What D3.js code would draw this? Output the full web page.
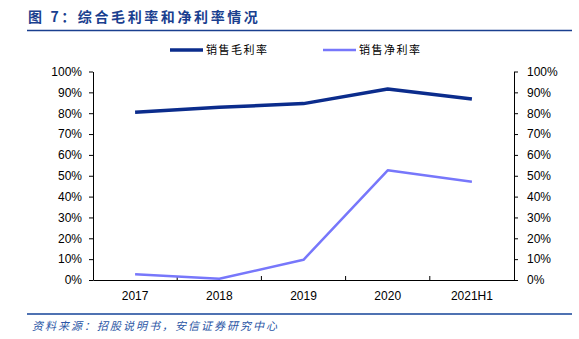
<!DOCTYPE html>
<html>
<head>
<meta charset="utf-8">
<script src="https://cdn.jsdelivr.net/npm/d3@7"></script>
<style>
  html, body { margin: 0; padding: 0; background: #fff; }
  svg { display: block; }
</style>
</head>
<body>
<svg id="chart" width="579" height="339"></svg>
<script>
// Gross and net margin by period
const categories = ["2017", "2018", "2019", "2020", "2021H1"];
const grossMargin = [0.805, 0.828, 0.846, 0.916, 0.868];
const netMargin = [0.027, 0.006, 0.097, 0.526, 0.471];
const yTicks = [0, 0.1, 0.2, 0.3, 0.4, 0.5, 0.6, 0.7, 0.8, 0.9, 1.0];
const seriesNames = ["销售毛利率", "销售净利率"];
const seriesColors = ["#0b2c8c", "#7777fb"];

const svg = d3.select("#chart");
const m = { left: 93, right: 514, top: 71.5, bottom: 280 };

const x = d3.scaleBand().domain(categories).range([m.left, m.right]).padding(0);
const y = d3.scaleLinear().domain([0, 1]).range([m.bottom, m.top]);

// Title and rule
svg.append("text")
  .attr("x", 28).attr("y", 22)
  .attr("font-family", "'Noto Sans CJK SC', sans-serif")
  .attr("font-size", 14).attr("font-weight", "bold")
  .attr("letter-spacing", 2.6)
  .attr("fill", "#1a3f8f")
  .text("图 7：综合毛利率和净利率情况");
svg.append("line")
  .attr("x1", 27).attr("x2", 572).attr("y1", 30.5).attr("y2", 30.5)
  .attr("stroke", "#1a3f8f").attr("stroke-width", 1.5);

// Source footer and rule
svg.append("line")
  .attr("x1", 27).attr("x2", 572).attr("y1", 314).attr("y2", 314)
  .attr("stroke", "#4f72b2").attr("stroke-width", 2);
svg.append("text")
  .attr("x", 32).attr("y", 330)
  .attr("font-family", "'Noto Sans CJK SC', sans-serif")
  .attr("font-size", 11).attr("font-style", "italic")
  .attr("letter-spacing", 2)
  .attr("fill", "#2a55a5")
  .text("资料来源：招股说明书，安信证券研究中心");

// Axes
const fmt = d => Math.round(d * 100) + "%";
const axisFont = "'Liberation Sans', Arial, sans-serif";

const leftAxis = svg.append("g")
  .attr("transform", `translate(${m.left},0)`)
  .call(d3.axisLeft(y).tickValues(yTicks).tickFormat(fmt).tickSize(4).tickSizeOuter(0).tickPadding(7));
const rightAxis = svg.append("g")
  .attr("transform", `translate(${m.right},0)`)
  .call(d3.axisRight(y).tickValues(yTicks).tickFormat(fmt).tickSize(4).tickSizeOuter(0).tickPadding(9));
const bottomAxis = svg.append("g")
  .attr("transform", `translate(0,${m.bottom})`)
  .call(d3.axisBottom(x).tickSize(0).tickPadding(11));

// Tick marks at category boundaries on the x axis
svg.append("g").selectAll("line")
  .data(categories.slice(1))
  .join("line")
  .attr("x1", d => x(d)).attr("x2", d => x(d))
  .attr("y1", m.bottom).attr("y2", m.bottom - 4)
  .attr("stroke", "#000");

[leftAxis, rightAxis, bottomAxis].forEach(g => {
  g.selectAll("path.domain").attr("stroke", "#000").attr("stroke-width", 1);
  g.selectAll(".tick line").attr("stroke", "#000");
  g.selectAll("text").attr("font-family", axisFont).attr("font-size", 12).attr("fill", "#000");
});

// Lines
const series = [grossMargin, netMargin];
const widths = [3.5, 2.5];
const line = d3.line()
  .x((d, i) => x(categories[i]) + x.bandwidth() / 2)
  .y(d => y(d));
series.forEach((vals, k) => {
  svg.append("path")
    .datum(vals)
    .attr("d", line)
    .attr("fill", "none")
    .attr("stroke", seriesColors[k])
    .attr("stroke-width", widths[k])
    .attr("stroke-linejoin", "round");
});

// Legend
const legendX = [170, 323];
seriesNames.forEach((name, k) => {
  const g = svg.append("g").attr("transform", `translate(${legendX[k]},50)`);
  g.append("line").attr("x1", 0).attr("x2", 33).attr("y1", 0).attr("y2", 0)
    .attr("stroke", seriesColors[k]).attr("stroke-width", widths[k]);
  g.append("text").attr("x", 36).attr("y", 4)
    .attr("font-family", "'Noto Sans CJK SC', sans-serif")
    .attr("font-size", 11).attr("letter-spacing", 1.5).attr("fill", "#000")
    .text(name);
});
</script>
</body>
</html>
